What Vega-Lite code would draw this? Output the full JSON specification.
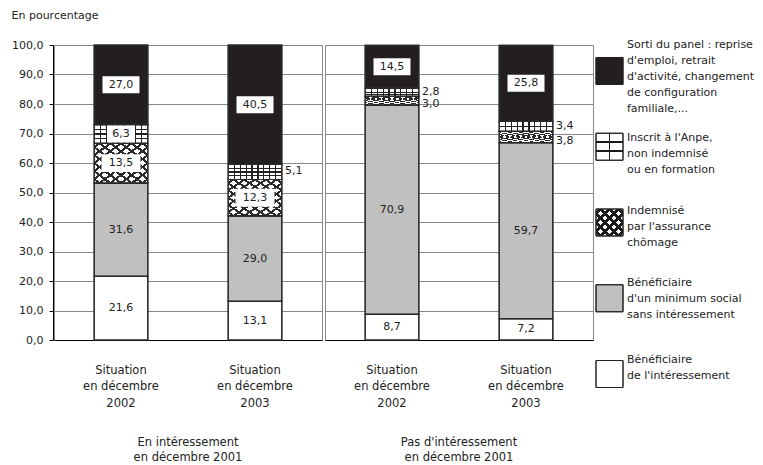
{
  "$schema": "https://vega.github.io/schema/vega-lite/v6.json",
  "padding": {"left": 11, "top": 9, "right": 0, "bottom": 0},
  "title": {"text": "En pourcentage", "anchor": "start", "frame": "bounds", "fontSize": 11, "fontWeight": "normal", "font": "DejaVu Sans", "color": "#222", "offset": 18},
  "datasets": {
    "cats": [
      {"k": 5, "cat": "Sorti du panel : reprise\nd'emploi, retrait\nd'activité, changement\nde configuration\nfamiliale,..."},
      {"k": 4, "cat": "Inscrit à l'Anpe,\nnon indemnisé\nou en formation"},
      {"k": 3, "cat": "Indemnisé\npar l'assurance\nchômage"},
      {"k": 2, "cat": "Bénéficiaire\nd'un minimum social\nsans intéressement"},
      {"k": 1, "cat": "Bénéficiaire\nde l'intéressement"}
    ],
    "rows": [
      {"g": "En intéressement en décembre 2001", "sit": "2002", "k": 1, "value": 21.6},
      {"g": "En intéressement en décembre 2001", "sit": "2002", "k": 2, "value": 31.6},
      {"g": "En intéressement en décembre 2001", "sit": "2002", "k": 3, "value": 13.5},
      {"g": "En intéressement en décembre 2001", "sit": "2002", "k": 4, "value": 6.3},
      {"g": "En intéressement en décembre 2001", "sit": "2002", "k": 5, "value": 27.0},
      {"g": "En intéressement en décembre 2001", "sit": "2003", "k": 1, "value": 13.1},
      {"g": "En intéressement en décembre 2001", "sit": "2003", "k": 2, "value": 29.0},
      {"g": "En intéressement en décembre 2001", "sit": "2003", "k": 3, "value": 12.3},
      {"g": "En intéressement en décembre 2001", "sit": "2003", "k": 4, "value": 5.1},
      {"g": "En intéressement en décembre 2001", "sit": "2003", "k": 5, "value": 40.5},
      {"g": "Pas d'intéressement en décembre 2001", "sit": "2002", "k": 1, "value": 8.7},
      {"g": "Pas d'intéressement en décembre 2001", "sit": "2002", "k": 2, "value": 70.9},
      {"g": "Pas d'intéressement en décembre 2001", "sit": "2002", "k": 3, "value": 3.0},
      {"g": "Pas d'intéressement en décembre 2001", "sit": "2002", "k": 4, "value": 2.8},
      {"g": "Pas d'intéressement en décembre 2001", "sit": "2002", "k": 5, "value": 14.5},
      {"g": "Pas d'intéressement en décembre 2001", "sit": "2003", "k": 1, "value": 7.2},
      {"g": "Pas d'intéressement en décembre 2001", "sit": "2003", "k": 2, "value": 59.7},
      {"g": "Pas d'intéressement en décembre 2001", "sit": "2003", "k": 3, "value": 3.8},
      {"g": "Pas d'intéressement en décembre 2001", "sit": "2003", "k": 4, "value": 3.4},
      {"g": "Pas d'intéressement en décembre 2001", "sit": "2003", "k": 5, "value": 25.8}
    ]
  },
  "spacing": 1,
  "hconcat": [
    {
      "data": {"name": "rows"},
      "transform": [
        {"lookup": "k", "from": {"data": {"name": "cats"}, "key": "k", "fields": ["cat"]}},
        {"stack": "value", "groupby": ["g", "sit"], "sort": [{"field": "k", "order": "ascending"}], "as": ["y0", "y1"]},
        {"calculate": "(datum.y0 + datum.y1) / 2", "as": "mid"}
      ],
      "facet": {
        "column": {
          "field": "g", "type": "nominal",
          "header": {
            "title": null,
            "labelOrient": "bottom",
            "labelExpr": "[replace(datum.label, ' en décembre 2001', ''), 'en décembre 2001']",
            "labelFontSize": 11.5, "labelFont": "DejaVu Sans", "labelColor": "#222",
            "labelLineHeight": 15, "labelPadding": 28
          }
        }
      },
      "spacing": 1,
      "resolve": {"scale": {"x": "independent"}},
      "spec": {
        "width": 268,
        "height": 295,
        "encoding": {
          "x": {"field": "sit", "type": "nominal", "title": null, "scale": {"paddingInner": 0.6, "paddingOuter": 0.3}}
        },
        "layer": [
          {
            "mark": {"type": "bar", "stroke": "#2a2a2a", "strokeWidth": 1.2},
            "encoding": {
              "y": {"field": "y1", "type": "quantitative", "title": null, "scale": {"domain": [0, 100]}},
              "y2": {"field": "y0"},
              "color": {"field": "cat", "type": "nominal", "legend": null,
                "scale": {
                  "domain": [
                    "Sorti du panel : reprise\nd'emploi, retrait\nd'activité, changement\nde configuration\nfamiliale,...",
                    "Inscrit à l'Anpe,\nnon indemnisé\nou en formation",
                    "Indemnisé\npar l'assurance\nchômage",
                    "Bénéficiaire\nd'un minimum social\nsans intéressement",
                    "Bénéficiaire\nde l'intéressement"
                  ],
                  "range": ["#231f20", "#ffffff", "#ffffff", "#c0c0c0", "#ffffff"]
                }
              }
            }
          },
          {
            "transform": [{"filter": "datum.k == 3"}],
            "mark": {"type": "bar", "fill": {"gradient": "linear", "x1": 0, "y1": 0, "x2": 1, "y2": 1, "stops": [
              {"offset": 0, "color": "rgba(0,0,0,0)"},
              {"offset": 0.034, "color": "rgba(0,0,0,0)"}, {"offset": 0.034, "color": "#2a2a2a"}, {"offset": 0.066, "color": "#2a2a2a"}, {"offset": 0.066, "color": "rgba(0,0,0,0)"},
              {"offset": 0.134, "color": "rgba(0,0,0,0)"}, {"offset": 0.134, "color": "#2a2a2a"}, {"offset": 0.166, "color": "#2a2a2a"}, {"offset": 0.166, "color": "rgba(0,0,0,0)"},
              {"offset": 0.234, "color": "rgba(0,0,0,0)"}, {"offset": 0.234, "color": "#2a2a2a"}, {"offset": 0.266, "color": "#2a2a2a"}, {"offset": 0.266, "color": "rgba(0,0,0,0)"},
              {"offset": 0.334, "color": "rgba(0,0,0,0)"}, {"offset": 0.334, "color": "#2a2a2a"}, {"offset": 0.366, "color": "#2a2a2a"}, {"offset": 0.366, "color": "rgba(0,0,0,0)"},
              {"offset": 0.434, "color": "rgba(0,0,0,0)"}, {"offset": 0.434, "color": "#2a2a2a"}, {"offset": 0.466, "color": "#2a2a2a"}, {"offset": 0.466, "color": "rgba(0,0,0,0)"},
              {"offset": 0.534, "color": "rgba(0,0,0,0)"}, {"offset": 0.534, "color": "#2a2a2a"}, {"offset": 0.566, "color": "#2a2a2a"}, {"offset": 0.566, "color": "rgba(0,0,0,0)"},
              {"offset": 0.634, "color": "rgba(0,0,0,0)"}, {"offset": 0.634, "color": "#2a2a2a"}, {"offset": 0.666, "color": "#2a2a2a"}, {"offset": 0.666, "color": "rgba(0,0,0,0)"},
              {"offset": 0.734, "color": "rgba(0,0,0,0)"}, {"offset": 0.734, "color": "#2a2a2a"}, {"offset": 0.766, "color": "#2a2a2a"}, {"offset": 0.766, "color": "rgba(0,0,0,0)"},
              {"offset": 0.834, "color": "rgba(0,0,0,0)"}, {"offset": 0.834, "color": "#2a2a2a"}, {"offset": 0.866, "color": "#2a2a2a"}, {"offset": 0.866, "color": "rgba(0,0,0,0)"},
              {"offset": 0.934, "color": "rgba(0,0,0,0)"}, {"offset": 0.934, "color": "#2a2a2a"}, {"offset": 0.966, "color": "#2a2a2a"}, {"offset": 0.966, "color": "rgba(0,0,0,0)"},
              {"offset": 1, "color": "rgba(0,0,0,0)"}
            ]}},
            "encoding": {
              "y": {"field": "y1", "type": "quantitative", "title": null},
              "y2": {"field": "y0"}
            }
          },
          {
            "transform": [{"filter": "datum.k == 3"}],
            "mark": {"type": "bar", "fill": {"gradient": "linear", "x1": 1, "y1": 0, "x2": 0, "y2": 1, "stops": [
              {"offset": 0, "color": "rgba(0,0,0,0)"},
              {"offset": 0.034, "color": "rgba(0,0,0,0)"}, {"offset": 0.034, "color": "#2a2a2a"}, {"offset": 0.066, "color": "#2a2a2a"}, {"offset": 0.066, "color": "rgba(0,0,0,0)"},
              {"offset": 0.134, "color": "rgba(0,0,0,0)"}, {"offset": 0.134, "color": "#2a2a2a"}, {"offset": 0.166, "color": "#2a2a2a"}, {"offset": 0.166, "color": "rgba(0,0,0,0)"},
              {"offset": 0.234, "color": "rgba(0,0,0,0)"}, {"offset": 0.234, "color": "#2a2a2a"}, {"offset": 0.266, "color": "#2a2a2a"}, {"offset": 0.266, "color": "rgba(0,0,0,0)"},
              {"offset": 0.334, "color": "rgba(0,0,0,0)"}, {"offset": 0.334, "color": "#2a2a2a"}, {"offset": 0.366, "color": "#2a2a2a"}, {"offset": 0.366, "color": "rgba(0,0,0,0)"},
              {"offset": 0.434, "color": "rgba(0,0,0,0)"}, {"offset": 0.434, "color": "#2a2a2a"}, {"offset": 0.466, "color": "#2a2a2a"}, {"offset": 0.466, "color": "rgba(0,0,0,0)"},
              {"offset": 0.534, "color": "rgba(0,0,0,0)"}, {"offset": 0.534, "color": "#2a2a2a"}, {"offset": 0.566, "color": "#2a2a2a"}, {"offset": 0.566, "color": "rgba(0,0,0,0)"},
              {"offset": 0.634, "color": "rgba(0,0,0,0)"}, {"offset": 0.634, "color": "#2a2a2a"}, {"offset": 0.666, "color": "#2a2a2a"}, {"offset": 0.666, "color": "rgba(0,0,0,0)"},
              {"offset": 0.734, "color": "rgba(0,0,0,0)"}, {"offset": 0.734, "color": "#2a2a2a"}, {"offset": 0.766, "color": "#2a2a2a"}, {"offset": 0.766, "color": "rgba(0,0,0,0)"},
              {"offset": 0.834, "color": "rgba(0,0,0,0)"}, {"offset": 0.834, "color": "#2a2a2a"}, {"offset": 0.866, "color": "#2a2a2a"}, {"offset": 0.866, "color": "rgba(0,0,0,0)"},
              {"offset": 0.934, "color": "rgba(0,0,0,0)"}, {"offset": 0.934, "color": "#2a2a2a"}, {"offset": 0.966, "color": "#2a2a2a"}, {"offset": 0.966, "color": "rgba(0,0,0,0)"},
              {"offset": 1, "color": "rgba(0,0,0,0)"}
            ]}},
            "encoding": {
              "y": {"field": "y1", "type": "quantitative", "title": null},
              "y2": {"field": "y0"}
            }
          },
          {
            "transform": [{"filter": "datum.k == 4"}],
            "mark": {"type": "bar", "fill": {"gradient": "linear", "x1": 0, "y1": 0, "x2": 0, "y2": 1, "stops": [
              {"offset": 0, "color": "rgba(0,0,0,0)"},
              {"offset": 0.21, "color": "rgba(0,0,0,0)"}, {"offset": 0.21, "color": "#222"}, {"offset": 0.29, "color": "#222"}, {"offset": 0.29, "color": "rgba(0,0,0,0)"},
              {"offset": 0.46, "color": "rgba(0,0,0,0)"}, {"offset": 0.46, "color": "#222"}, {"offset": 0.54, "color": "#222"}, {"offset": 0.54, "color": "rgba(0,0,0,0)"},
              {"offset": 0.71, "color": "rgba(0,0,0,0)"}, {"offset": 0.71, "color": "#222"}, {"offset": 0.79, "color": "#222"}, {"offset": 0.79, "color": "rgba(0,0,0,0)"},
              {"offset": 1, "color": "rgba(0,0,0,0)"}
            ]}},
            "encoding": {
              "y": {"field": "y1", "type": "quantitative", "title": null},
              "y2": {"field": "y0"}
            }
          },
          {
            "transform": [{"filter": "datum.k == 4"}],
            "mark": {"type": "bar", "fill": {"gradient": "linear", "x1": 0, "y1": 0, "x2": 1, "y2": 0, "stops": [
              {"offset": 0, "color": "rgba(0,0,0,0)"},
              {"offset": 0.101, "color": "rgba(0,0,0,0)"}, {"offset": 0.101, "color": "#222"}, {"offset": 0.121, "color": "#222"}, {"offset": 0.121, "color": "rgba(0,0,0,0)"},
              {"offset": 0.212, "color": "rgba(0,0,0,0)"}, {"offset": 0.212, "color": "#222"}, {"offset": 0.232, "color": "#222"}, {"offset": 0.232, "color": "rgba(0,0,0,0)"},
              {"offset": 0.323, "color": "rgba(0,0,0,0)"}, {"offset": 0.323, "color": "#222"}, {"offset": 0.343, "color": "#222"}, {"offset": 0.343, "color": "rgba(0,0,0,0)"},
              {"offset": 0.434, "color": "rgba(0,0,0,0)"}, {"offset": 0.434, "color": "#222"}, {"offset": 0.454, "color": "#222"}, {"offset": 0.454, "color": "rgba(0,0,0,0)"},
              {"offset": 0.546, "color": "rgba(0,0,0,0)"}, {"offset": 0.546, "color": "#222"}, {"offset": 0.566, "color": "#222"}, {"offset": 0.566, "color": "rgba(0,0,0,0)"},
              {"offset": 0.657, "color": "rgba(0,0,0,0)"}, {"offset": 0.657, "color": "#222"}, {"offset": 0.677, "color": "#222"}, {"offset": 0.677, "color": "rgba(0,0,0,0)"},
              {"offset": 0.768, "color": "rgba(0,0,0,0)"}, {"offset": 0.768, "color": "#222"}, {"offset": 0.788, "color": "#222"}, {"offset": 0.788, "color": "rgba(0,0,0,0)"},
              {"offset": 0.879, "color": "rgba(0,0,0,0)"}, {"offset": 0.879, "color": "#222"}, {"offset": 0.899, "color": "#222"}, {"offset": 0.899, "color": "rgba(0,0,0,0)"},
              {"offset": 1, "color": "rgba(0,0,0,0)"}
            ]}},
            "encoding": {
              "y": {"field": "y1", "type": "quantitative", "title": null},
              "y2": {"field": "y0"}
            }
          },
          {
            "mark": {"type": "bar", "fill": "transparent", "stroke": "#2a2a2a", "strokeWidth": 1.2},
            "encoding": {
              "y": {"field": "y1", "type": "quantitative", "title": null},
              "y2": {"field": "y0"}
            }
          },
          {
            "transform": [{"filter": "datum.k >= 3 && datum.value >= 6"}],
            "mark": {"type": "point", "filled": true, "color": "#ffffff", "opacity": 1, "strokeWidth": 0},
            "encoding": {
              "y": {"field": "mid", "type": "quantitative", "title": null},
              "shape": {"condition": [{"test": "datum.k == 3", "value": "M-1,-0.46L1,-0.46L1,0.46L-1,0.46Z"}, {"test": "datum.value < 10", "value": "M-1,-0.6L1,-0.6L1,0.6L-1,0.6Z"}], "value": "M-1,-0.46L1,-0.46L1,0.46L-1,0.46Z"},
              "size": {"condition": [{"test": "datum.k == 3", "value": 1521}, {"test": "datum.value < 10", "value": 784}], "value": 1369}
            }
          },
          {
            "transform": [{"filter": "datum.value >= 6"}],
            "mark": {"type": "text", "fontSize": 11, "font": "DejaVu Sans", "color": "#222", "baseline": "middle"},
            "encoding": {
              "y": {"field": "mid", "type": "quantitative", "title": null},
              "text": {"field": "value", "type": "quantitative", "format": ".1f"}
            }
          },
          {
            "transform": [{"filter": "datum.value < 6 && datum.k == 3"}],
            "mark": {"type": "text", "fontSize": 11, "font": "DejaVu Sans", "color": "#222", "baseline": "middle", "align": "left", "dx": 30, "dy": 3.5},
            "encoding": {
              "y": {"field": "mid", "type": "quantitative", "title": null},
              "text": {"field": "value", "type": "quantitative", "format": ".1f"}
            }
          },
          {
            "transform": [{"filter": "datum.value < 6 && datum.k == 4"}],
            "mark": {"type": "text", "fontSize": 11, "font": "DejaVu Sans", "color": "#222", "baseline": "middle", "align": "left", "dx": 30, "dy": -0.5},
            "encoding": {
              "y": {"field": "mid", "type": "quantitative", "title": null},
              "text": {"field": "value", "type": "quantitative", "format": ".1f"}
            }
          }
        ]
      }
    },
    {
      "data": {"name": "cats"},
      "width": 27,
      "height": 355,
      "view": {"stroke": null},
      "encoding": {
        "y": {"field": "cat", "type": "nominal", "sort": {"field": "k", "order": "descending"}, "title": null, "axis": null, "scale": {"paddingInner": 0.6438, "paddingOuter": 0.1649}}
      },
      "layer": [
        {
          "mark": {"type": "bar", "stroke": "#222", "strokeWidth": 1},
          "encoding": {
            "x": {"datum": 0, "type": "quantitative", "axis": null, "scale": {"domain": [0, 1], "nice": false, "zero": false}},
            "x2": {"datum": 1},
            "color": {"field": "cat", "type": "nominal", "legend": null}
          }
        },
        {
          "transform": [{"filter": "datum.k == 3"}],
          "mark": {"type": "bar", "fill": {"gradient": "linear", "x1": 0, "y1": 0, "x2": 1, "y2": 1, "stops": [
            {"offset": 0, "color": "rgba(0,0,0,0)"},
            {"offset": 0.050, "color": "rgba(0,0,0,0)"}, {"offset": 0.050, "color": "#1a1a1a"}, {"offset": 0.116, "color": "#1a1a1a"}, {"offset": 0.116, "color": "rgba(0,0,0,0)"},
            {"offset": 0.217, "color": "rgba(0,0,0,0)"}, {"offset": 0.217, "color": "#1a1a1a"}, {"offset": 0.283, "color": "#1a1a1a"}, {"offset": 0.283, "color": "rgba(0,0,0,0)"},
            {"offset": 0.384, "color": "rgba(0,0,0,0)"}, {"offset": 0.384, "color": "#1a1a1a"}, {"offset": 0.450, "color": "#1a1a1a"}, {"offset": 0.450, "color": "rgba(0,0,0,0)"},
            {"offset": 0.550, "color": "rgba(0,0,0,0)"}, {"offset": 0.550, "color": "#1a1a1a"}, {"offset": 0.616, "color": "#1a1a1a"}, {"offset": 0.616, "color": "rgba(0,0,0,0)"},
            {"offset": 0.717, "color": "rgba(0,0,0,0)"}, {"offset": 0.717, "color": "#1a1a1a"}, {"offset": 0.783, "color": "#1a1a1a"}, {"offset": 0.783, "color": "rgba(0,0,0,0)"},
            {"offset": 0.884, "color": "rgba(0,0,0,0)"}, {"offset": 0.884, "color": "#1a1a1a"}, {"offset": 0.950, "color": "#1a1a1a"}, {"offset": 0.950, "color": "rgba(0,0,0,0)"},
            {"offset": 1, "color": "rgba(0,0,0,0)"}
          ]}},
          "encoding": {
            "x": {"datum": 0, "type": "quantitative"},
            "x2": {"datum": 1}
          }
        },
        {
          "transform": [{"filter": "datum.k == 3"}],
          "mark": {"type": "bar", "fill": {"gradient": "linear", "x1": 1, "y1": 0, "x2": 0, "y2": 1, "stops": [
            {"offset": 0, "color": "rgba(0,0,0,0)"},
            {"offset": 0.050, "color": "rgba(0,0,0,0)"}, {"offset": 0.050, "color": "#1a1a1a"}, {"offset": 0.116, "color": "#1a1a1a"}, {"offset": 0.116, "color": "rgba(0,0,0,0)"},
            {"offset": 0.217, "color": "rgba(0,0,0,0)"}, {"offset": 0.217, "color": "#1a1a1a"}, {"offset": 0.283, "color": "#1a1a1a"}, {"offset": 0.283, "color": "rgba(0,0,0,0)"},
            {"offset": 0.384, "color": "rgba(0,0,0,0)"}, {"offset": 0.384, "color": "#1a1a1a"}, {"offset": 0.450, "color": "#1a1a1a"}, {"offset": 0.450, "color": "rgba(0,0,0,0)"},
            {"offset": 0.550, "color": "rgba(0,0,0,0)"}, {"offset": 0.550, "color": "#1a1a1a"}, {"offset": 0.616, "color": "#1a1a1a"}, {"offset": 0.616, "color": "rgba(0,0,0,0)"},
            {"offset": 0.717, "color": "rgba(0,0,0,0)"}, {"offset": 0.717, "color": "#1a1a1a"}, {"offset": 0.783, "color": "#1a1a1a"}, {"offset": 0.783, "color": "rgba(0,0,0,0)"},
            {"offset": 0.884, "color": "rgba(0,0,0,0)"}, {"offset": 0.884, "color": "#1a1a1a"}, {"offset": 0.950, "color": "#1a1a1a"}, {"offset": 0.950, "color": "rgba(0,0,0,0)"},
            {"offset": 1, "color": "rgba(0,0,0,0)"}
          ]}},
          "encoding": {
            "x": {"datum": 0, "type": "quantitative"},
            "x2": {"datum": 1}
          }
        },
        {
          "transform": [{"filter": "datum.k == 4"}],
          "mark": {"type": "bar", "fill": {"gradient": "linear", "x1": 0, "y1": 0, "x2": 1, "y2": 0, "stops": [
            {"offset": 0, "color": "rgba(0,0,0,0)"},
            {"offset": 0.47, "color": "rgba(0,0,0,0)"}, {"offset": 0.47, "color": "#1a1a1a"}, {"offset": 0.53, "color": "#1a1a1a"}, {"offset": 0.53, "color": "rgba(0,0,0,0)"},
            {"offset": 1, "color": "rgba(0,0,0,0)"}
          ]}},
          "encoding": {
            "x": {"datum": 0, "type": "quantitative"},
            "x2": {"datum": 1}
          }
        },
        {
          "transform": [{"filter": "datum.k == 4"}],
          "mark": {"type": "bar", "fill": {"gradient": "linear", "x1": 0, "y1": 0, "x2": 0, "y2": 1, "stops": [
            {"offset": 0, "color": "rgba(0,0,0,0)"},
            {"offset": 0.303, "color": "rgba(0,0,0,0)"}, {"offset": 0.303, "color": "#1a1a1a"}, {"offset": 0.363, "color": "#1a1a1a"}, {"offset": 0.363, "color": "rgba(0,0,0,0)"},
            {"offset": 0.637, "color": "rgba(0,0,0,0)"}, {"offset": 0.637, "color": "#1a1a1a"}, {"offset": 0.697, "color": "#1a1a1a"}, {"offset": 0.697, "color": "rgba(0,0,0,0)"},
            {"offset": 1, "color": "rgba(0,0,0,0)"}
          ]}},
          "encoding": {
            "x": {"datum": 0, "type": "quantitative"},
            "x2": {"datum": 1}
          }
        },
        {
          "mark": {"type": "bar", "fill": "transparent", "stroke": "#222", "strokeWidth": 1},
          "encoding": {
            "x": {"datum": 0, "type": "quantitative"},
            "x2": {"datum": 1}
          }
        },
        {
          "transform": [{"filter": "datum.k == 5"}],
          "mark": {"type": "text", "align": "left", "baseline": "middle", "lineBreak": "\n", "lineHeight": 16, "fontSize": 11, "font": "DejaVu Sans", "color": "#222", "dx": 4, "dy": -26},
          "encoding": {
            "x": {"datum": 1, "type": "quantitative"},
            "text": {"field": "cat"}
          }
        },
        {
          "transform": [{"filter": "datum.k == 4"}],
          "mark": {"type": "text", "align": "left", "baseline": "middle", "lineBreak": "\n", "lineHeight": 16, "fontSize": 11, "font": "DejaVu Sans", "color": "#222", "dx": 4, "dy": -9},
          "encoding": {
            "x": {"datum": 1, "type": "quantitative"},
            "text": {"field": "cat"}
          }
        },
        {
          "transform": [{"filter": "datum.k == 3"}],
          "mark": {"type": "text", "align": "left", "baseline": "middle", "lineBreak": "\n", "lineHeight": 16, "fontSize": 11, "font": "DejaVu Sans", "color": "#222", "dx": 4, "dy": -11.5},
          "encoding": {
            "x": {"datum": 1, "type": "quantitative"},
            "text": {"field": "cat"}
          }
        },
        {
          "transform": [{"filter": "datum.k == 2"}],
          "mark": {"type": "text", "align": "left", "baseline": "middle", "lineBreak": "\n", "lineHeight": 16, "fontSize": 11, "font": "DejaVu Sans", "color": "#222", "dx": 4, "dy": -15.5},
          "encoding": {
            "x": {"datum": 1, "type": "quantitative"},
            "text": {"field": "cat"}
          }
        },
        {
          "transform": [{"filter": "datum.k == 1"}],
          "mark": {"type": "text", "align": "left", "baseline": "middle", "lineBreak": "\n", "lineHeight": 16, "fontSize": 11, "font": "DejaVu Sans", "color": "#222", "dx": 4, "dy": -14},
          "encoding": {
            "x": {"datum": 1, "type": "quantitative"},
            "text": {"field": "cat"}
          }
        }
      ]
    }
  ],
  "config": {
    "view": {"stroke": "#888", "strokeWidth": 1},
    "font": "DejaVu Sans",
    "numberFormat": ".1f",
    "locale": {"number": {"decimal": ",", "thousands": " ", "grouping": [3], "currency": ["", " €"]}},
    "axisX": {"labelExpr": "['Situation', 'en décembre', datum.label]", "labelAngle": 0, "labelFontSize": 11.5, "labelLineHeight": 16.5, "labelPadding": 24, "ticks": false, "domainColor": "#000", "labelColor": "#222", "grid": false},
    "axisY": {"tickCount": 10, "tickSize": 4, "labelPadding": 6, "domainColor": "#000", "tickColor": "#000", "gridColor": "#888", "labelFontSize": 11, "labelColor": "#222"}
  }
}
